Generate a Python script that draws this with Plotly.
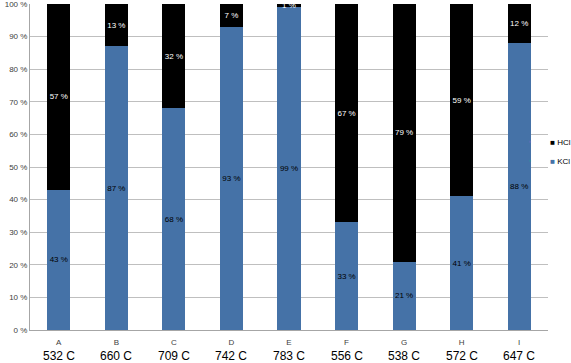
import plotly.graph_objects as go

letters = ["A", "B", "C", "D", "E", "F", "G", "H", "I"]
temps = ["532 C", "660 C", "709 C", "742 C", "783 C", "556 C", "538 C", "572 C", "647 C"]
kcl = [43, 87, 68, 93, 99, 33, 21, 41, 88]
hcl = [57, 13, 32, 7, 1, 67, 79, 59, 12]

BLUE = "#4572A7"
FONT = "Liberation Sans"

fig = go.Figure()
fig.add_trace(go.Bar(
    x=letters, y=kcl, name="KCl", marker=dict(color=BLUE, line=dict(width=0)),
    text=[f"{v} %" for v in kcl], textposition="inside", insidetextanchor="middle",
    textangle=0, textfont=dict(color="black", size=8, family=FONT), showlegend=False,
))
fig.add_trace(go.Bar(
    x=letters, y=hcl, name="HCl", marker=dict(color="black", line=dict(width=0)),
    text=[f"{v} %" for v in hcl], textposition="inside", insidetextanchor="middle",
    textangle=0, textfont=dict(color="white", size=8, family=FONT), showlegend=False,
))
# legend entries: glyph square in the name, invisible symbol
fig.add_trace(go.Scatter(x=[None], y=[None], mode="markers",
                         name=f"<span style='color:{BLUE}'>■</span> KCl",
                         marker=dict(symbol="square", size=1, opacity=0)))
fig.add_trace(go.Scatter(x=[None], y=[None], mode="markers",
                         name="<span style='color:black'>■</span> HCl",
                         marker=dict(symbol="square", size=1, opacity=0)))

for c, t in zip(letters, temps):
    fig.add_annotation(x=c, y=0, xref="x", yref="paper", yanchor="middle", yshift=-26, text=t,
                       showarrow=False, borderpad=0,
                       font=dict(size=12, color="black", family=FONT))

fig.update_layout(
    width=571, height=363,
    barmode="stack", bargap=0.6,
    margin=dict(l=30, r=23, t=4, b=33, autoexpand=False),
    plot_bgcolor="white", paper_bgcolor="white",
    uniformtext=dict(minsize=8, mode="show"),
    showlegend=True,
    legend=dict(traceorder="reversed", x=0.927, xanchor="left", y=0.548, yanchor="middle",
                font=dict(size=8, color="black", family=FONT),
                bgcolor="rgba(0,0,0,0)", itemwidth=30, tracegroupgap=0),
    font=dict(family=FONT),
)
fig.update_xaxes(showgrid=False, showline=True, linecolor="#a6a6a6", linewidth=1,
                 tickfont=dict(size=8, color="#404040"), ticks="", automargin=False,
                 ticklabelstandoff=4)
fig.update_yaxes(range=[0, 100], dtick=10, ticksuffix=" %", showgrid=True, gridcolor="#bfbfbf",
                 showline=True, linecolor="#a6a6a6", linewidth=1, zeroline=False,
                 tickfont=dict(size=8, color="#404040"), ticks="", automargin=False,
                 ticklabeloverflow="allow")

fig.write_html("out.html", config={"displayModeBar": False},
               post_script="document.body.style.margin='0';document.body.style.padding='0';")
